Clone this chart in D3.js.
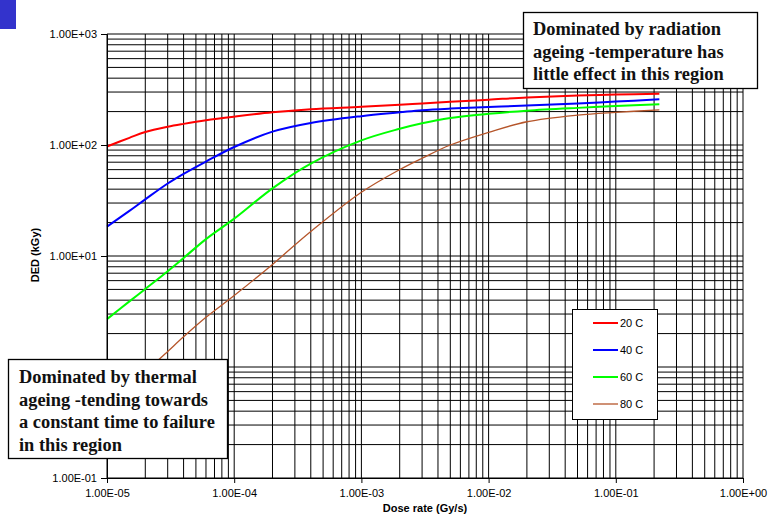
<!DOCTYPE html>
<html>
<head>
<meta charset="utf-8">
<script src="https://cdn.jsdelivr.net/npm/d3@7/dist/d3.min.js"></script>
<style>
  html, body { margin: 0; padding: 0; background: #fff; }
  svg { display: block; }
</style>
</head>
<body>
<svg id="chart" width="769" height="522"></svg>
<script>
// Dose rate (Gy/s) sample points shared by all series
const doseRate = [1e-5, 1.5e-5, 2e-5, 3e-5, 4e-5, 6e-5, 1e-4, 2e-4, 4e-4, 1e-3, 2e-3, 3e-3, 5e-3, 1e-2, 2e-2, 5e-2, 1e-1, 0.22];

// Dose to equivalent damage (kGy) per ageing temperature
const ded20 = [97, 116, 131, 146, 155, 167, 180, 197, 210, 221, 231, 237, 245, 256, 268, 279, 285, 290];
const ded40 = [18.4, 25.5, 32.4, 45, 55, 71, 96, 132, 158, 182, 197, 206, 213, 220, 227, 237, 246, 258];
const ded60 = [2.7, 3.9, 5.05, 7.3, 9.6, 14.2, 21.7, 40.7, 68, 110, 140, 157, 175, 191, 204, 216, 224, 233];
const ded80 = [0.45, 0.68, 0.9, 1.38, 1.87, 2.8, 4.4, 8.4, 16.6, 37.5, 60, 76, 100, 130, 162, 186, 197, 207];

const seriesNames = ["20 C", "40 C", "60 C", "80 C"];
const seriesColors = ["#ff0000", "#0000ff", "#00ff00", "#b5552a"];
const seriesWidths = [2, 2, 2, 1.3];

const xTickValues = [1e-5, 1e-4, 1e-3, 1e-2, 1e-1, 1];
const xTickLabels = ["1.00E-05", "1.00E-04", "1.00E-03", "1.00E-02", "1.00E-01", "1.00E+00"];
// the 1.00E+00 level sits under the thermal note box, so it carries no label
const yTickValues = [0.1, 10, 100, 1000];
const yTickLabels = ["1.00E-01", "1.00E+01", "1.00E+02", "1.00E+03"];

const noteRadiation = ["Dominated by radiation", "ageing -temperature has", "little effect in this region"];
const noteThermal = ["Dominated by thermal", "ageing -tending towards", "a constant time to failure", "in this region"];

const svg = d3.select("#chart");

const x = d3.scaleLog().domain([1e-5, 1]).range([107, 743]);
const y = d3.scaleLog().domain([0.1, 1000]).range([478, 34]);

// corner marker
svg.append("rect").attr("x", 0).attr("y", 0).attr("width", 16).attr("height", 29).attr("fill", "#3333cc");

// log gridlines: every 1..9 multiple within each decade
function logGrid(lo, hi) {
  const out = [];
  for (let e = Math.round(Math.log10(lo)); e < Math.round(Math.log10(hi)); e++) {
    for (let m = 1; m <= 9; m++) out.push(m * Math.pow(10, e));
  }
  out.push(hi);
  return out;
}
const grid = svg.append("g").attr("stroke", "#000").attr("stroke-width", 1);
grid.selectAll("line.gx").data(logGrid(1e-5, 1)).join("line")
  .attr("x1", d => x(d)).attr("x2", d => x(d))
  .attr("y1", y(0.1)).attr("y2", y(1000));
grid.selectAll("line.gy").data(logGrid(0.1, 1000)).join("line")
  .attr("x1", x(1e-5)).attr("x2", x(1))
  .attr("y1", d => y(d)).attr("y2", d => y(d));

// curves
const series = [ded20, ded40, ded60, ded80];
const line = d3.line().x(d => x(d[0])).y(d => y(d[1])).curve(d3.curveCatmullRom.alpha(0.5));
series.forEach((vals, i) => {
  svg.append("path")
    .datum(doseRate.map((r, k) => [r, vals[k]]))
    .attr("fill", "none")
    .attr("stroke", seriesColors[i])
    .attr("stroke-width", seriesWidths[i])
    .attr("stroke-linejoin", "round")
    .attr("d", line);
});

// axes
const font = "Arial, 'Liberation Sans', sans-serif";
const xAxis = d3.axisBottom(x).tickValues(xTickValues).tickSize(5).tickPadding(6)
  .tickFormat((d, i) => xTickLabels[i]);
const gx = svg.append("g").attr("transform", `translate(0,${y(0.1)})`).call(xAxis);
const yAxis = d3.axisLeft(y).tickValues(yTickValues).tickSize(6).tickPadding(4)
  .tickFormat((d, i) => yTickLabels[i]);
const gy = svg.append("g").attr("transform", `translate(${x(1e-5)},0)`).call(yAxis);
[gx, gy].forEach(g => {
  g.select(".domain").attr("stroke", "#000");
  g.selectAll(".tick line").attr("stroke", "#000");
  g.selectAll(".tick text").attr("fill", "#000").style("font-family", font).style("font-size", "11px");
});

svg.append("text")
  .attr("x", 425).attr("y", 512)
  .attr("text-anchor", "middle")
  .style("font-family", font).style("font-size", "11px").style("font-weight", "bold")
  .text("Dose rate (Gy/s)");
svg.append("text")
  .attr("transform", "translate(39,255) rotate(-90)")
  .attr("text-anchor", "middle")
  .style("font-family", font).style("font-size", "11px").style("font-weight", "bold")
  .text("DED (kGy)");

// legend
const lg = svg.append("g");
lg.append("rect").attr("x", 572.5).attr("y", 309.5).attr("width", 85).attr("height", 110)
  .attr("fill", "#fff").attr("stroke", "#000").attr("stroke-width", 1);
seriesNames.forEach((name, i) => {
  const cy = 323 + i * 27;
  lg.append("line").attr("x1", 593).attr("x2", 618).attr("y1", cy).attr("y2", cy)
    .attr("stroke", seriesColors[i]).attr("stroke-width", seriesWidths[i]);
  lg.append("text").attr("x", 620).attr("y", cy + 4)
    .style("font-family", font).style("font-size", "11px").text(name);
});

// annotation boxes
function note(bx, by, bw, bh, lines, tx, ty) {
  const g = svg.append("g");
  g.append("rect").attr("x", bx).attr("y", by).attr("width", bw).attr("height", bh)
    .attr("fill", "#fff").attr("stroke", "#000").attr("stroke-width", 1.3);
  lines.forEach((t, i) => {
    g.append("text").attr("x", tx).attr("y", ty + i * 22.5)
      .style("font-family", "'Liberation Serif', 'Times New Roman', serif")
      .style("font-size", "18.4px").style("font-weight", "bold").attr("fill", "#111")
      .text(t);
  });
}
note(523.5, 12.5, 234, 76, noteRadiation, 533, 35);
note(8.5, 359.5, 219, 99, noteThermal, 19, 383);
</script>
</body>
</html>
